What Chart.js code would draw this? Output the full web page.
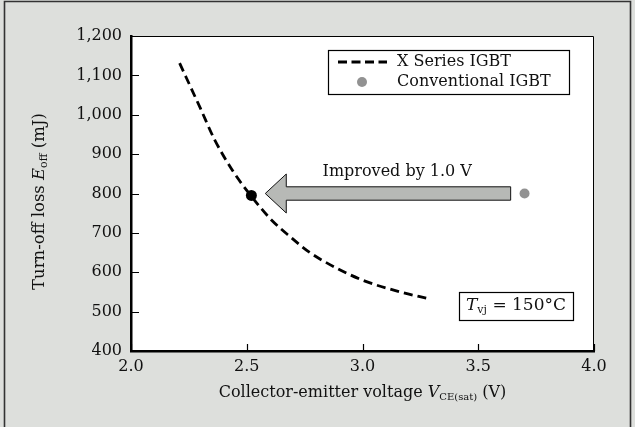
<!DOCTYPE html>
<html>
<head>
<meta charset="utf-8">
<script src="https://cdn.jsdelivr.net/npm/chart.js@4/dist/chart.umd.min.js"></script>
<style>
  html, body { margin: 0; padding: 0; background: #dddfdc; }
  #wrap { width: 635px; height: 427px; position: relative; }
</style>
</head>
<body>
<div id="wrap"><canvas id="c" width="635" height="427"></canvas></div>
<script>
// ---- data ----
const seriesLabels = ['X Series IGBT', 'Conventional IGBT'];
const xSeriesVce  = [2.21, 2.30, 2.36, 2.44, 2.52, 2.60, 2.69, 2.77, 2.88, 3.00, 3.15, 3.29];
const xSeriesEoff = [1131, 1016, 938, 857, 793, 737, 689, 651, 613, 580, 552, 532];
const xMarkVce  = [2.52];
const xMarkEoff = [795];
const convVce  = [3.70];
const convEoff = [800];
const xTickValues = [2.0, 2.5, 3.0, 3.5, 4.0];
const yTickValues = [400, 500, 600, 700, 800, 900, 1000, 1100, 1200];
const arrowFromVce = 3.64, arrowToVce = 2.58, arrowEoff = 800;
const arrowLabel = 'Improved by 1.0 V';
const tempLabel = ['T', 'vj', ' = 150\u00B0C'];

const FONT = '"DejaVu Serif", "Liberation Serif", serif';
const INK = '#111';

function pts(xs, ys) { return xs.map((x, i) => ({ x: x, y: ys[i] })); }

function richWidth(ctx, segs, size, subSize) {
  let w = 0;
  segs.forEach(s => {
    ctx.font = (s.it ? 'italic ' : '') + (s.sub ? subSize : size) + 'px ' + FONT;
    w += ctx.measureText(s.t).width;
  });
  return w;
}
function drawRich(ctx, segs, x, y, size, subSize, align) {
  const w = richWidth(ctx, segs, size, subSize);
  let cx = align === 'center' ? x - w / 2 : x;
  ctx.textBaseline = 'middle';
  ctx.textAlign = 'left';
  segs.forEach(s => {
    ctx.font = (s.it ? 'italic ' : '') + (s.sub ? subSize : size) + 'px ' + FONT;
    ctx.fillText(s.t, cx, y + (s.sub ? 4 : 0));
    cx += ctx.measureText(s.t).width;
  });
}

const decor = {
  id: 'decor',
  beforeDraw(chart) {
    const ctx = chart.ctx, a = chart.chartArea;
    ctx.save();
    ctx.fillStyle = '#dddfdc';
    ctx.fillRect(0, 0, chart.width, chart.height);
    ctx.strokeStyle = '#333';
    ctx.lineWidth = 1.6;
    ctx.beginPath();
    ctx.moveTo(4.5, 440); ctx.lineTo(4.5, 1.5); ctx.lineTo(630.5, 1.5); ctx.lineTo(630.5, 440);
    ctx.stroke();
    ctx.fillStyle = '#fff';
    ctx.fillRect(a.left, a.top, a.right - a.left, a.bottom - a.top);
    ctx.restore();
  },
  afterDraw(chart) {
    const ctx = chart.ctx, a = chart.chartArea;
    const xs = chart.scales.x, ys = chart.scales.y;
    ctx.save();
    ctx.strokeStyle = '#000';
    ctx.lineWidth = 1;
    ctx.beginPath();
    ctx.moveTo(a.left, a.top + 0.5); ctx.lineTo(a.right - 0.5, a.top + 0.5); ctx.lineTo(a.right - 0.5, a.bottom);
    ctx.stroke();
    ctx.lineWidth = 1.2;
    ctx.beginPath();
    yTickValues.forEach(v => {
      const py = Math.round(ys.getPixelForValue(v)) + 0.5;
      ctx.moveTo(a.left, py); ctx.lineTo(a.left + 8, py);
    });
    xTickValues.forEach(v => {
      const px = Math.round(xs.getPixelForValue(v)) + 0.5;
      ctx.moveTo(px, a.bottom); ctx.lineTo(px, a.bottom - 7);
    });
    ctx.stroke();

    // arrow
    const ay = ys.getPixelForValue(arrowEoff);
    const tail = xs.getPixelForValue(arrowFromVce);
    const tip = xs.getPixelForValue(arrowToVce);
    const headBack = tip + 21;
    const bh = 6.7, hh = 19.5;
    ctx.beginPath();
    ctx.moveTo(tail, ay - bh);
    ctx.lineTo(headBack, ay - bh);
    ctx.lineTo(headBack, ay - hh);
    ctx.lineTo(tip, ay);
    ctx.lineTo(headBack, ay + hh);
    ctx.lineTo(headBack, ay + bh);
    ctx.lineTo(tail, ay + bh);
    ctx.closePath();
    ctx.fillStyle = '#b7b9b6';
    ctx.fill();
    ctx.strokeStyle = '#111';
    ctx.lineWidth = 1;
    ctx.stroke();
    ctx.fillStyle = INK;
    ctx.font = '16px ' + FONT;
    ctx.textAlign = 'center';
    ctx.textBaseline = 'middle';
    ctx.fillText(arrowLabel, xs.getPixelForValue(3.15), ay - 22);

    // legend box
    const lx = a.right - 266, ly = a.top + 14, lw = 241, lh = 44;
    ctx.fillStyle = '#fff';
    ctx.fillRect(lx, ly, lw, lh);
    ctx.strokeStyle = '#000';
    ctx.lineWidth = 1.2;
    ctx.strokeRect(lx + 0.5, ly + 0.5, lw, lh);
    ctx.beginPath();
    ctx.setLineDash([9, 4.5]);
    ctx.lineWidth = 2.8;
    ctx.moveTo(lx + 10, ly + 12); ctx.lineTo(lx + 59, ly + 12);
    ctx.stroke();
    ctx.setLineDash([]);
    ctx.fillStyle = '#929292';
    ctx.beginPath();
    ctx.arc(lx + 34, ly + 32, 5, 0, Math.PI * 2);
    ctx.fill();
    ctx.fillStyle = INK;
    ctx.font = '16px ' + FONT;
    ctx.textAlign = 'left';
    ctx.textBaseline = 'middle';
    ctx.fillText(seriesLabels[0], lx + 69, ly + 12);
    ctx.fillText(seriesLabels[1], lx + 69, ly + 32);

    // temperature box
    const tw = 114, th = 28;
    const tx = a.right - 21 - tw, ty = a.bottom - 31 - th;
    ctx.fillStyle = '#fff';
    ctx.fillRect(tx, ty, tw, th);
    ctx.strokeStyle = '#000';
    ctx.lineWidth = 1.2;
    ctx.strokeRect(tx + 0.5, ty + 0.5, tw, th);
    ctx.fillStyle = INK;
    drawRich(ctx, [{ t: tempLabel[0], it: true }, { t: tempLabel[1], sub: true }, { t: tempLabel[2] }],
      tx + tw / 2, ty + th / 2, 17, 11, 'center');

    // axis titles
    drawRich(ctx, [{ t: 'Collector-emitter voltage ' }, { t: 'V', it: true }, { t: 'CE(sat)', sub: true }, { t: ' (V)' }],
      (a.left + a.right) / 2, 393, 16, 10, 'center');
    ctx.save();
    ctx.translate(40, (a.top + a.bottom) / 2 + 8);
    ctx.rotate(-Math.PI / 2);
    drawRich(ctx, [{ t: 'Turn-off loss ' }, { t: 'E', it: true }, { t: 'off', sub: true }, { t: ' (mJ)' }],
      0, 0, 16.5, 11, 'center');
    ctx.restore();
    ctx.restore();
  }
};

new Chart(document.getElementById('c'), {
  type: 'scatter',
  data: {
    datasets: [
      {
        label: seriesLabels[0],
        data: pts(xSeriesVce, xSeriesEoff),
        showLine: true,
        borderColor: '#000',
        borderWidth: 2.8,
        borderDash: [9, 5],
        pointRadius: 0,
        cubicInterpolationMode: 'monotone',
        fill: false
      },
      {
        label: seriesLabels[0] + ' point',
        data: pts(xMarkVce, xMarkEoff),
        pointRadius: 5.5,
        pointBackgroundColor: '#000',
        pointBorderColor: '#000',
        pointBorderWidth: 0
      },
      {
        label: seriesLabels[1],
        data: pts(convVce, convEoff),
        pointRadius: 5,
        pointBackgroundColor: '#929292',
        pointBorderColor: '#929292',
        pointBorderWidth: 0
      }
    ]
  },
  options: {
    responsive: false,
    animation: false,
    devicePixelRatio: 1,
    layout: { padding: { left: 0, top: 36, right: 41, bottom: 0 } },
    plugins: { legend: { display: false }, tooltip: { enabled: false } },
    scales: {
      x: {
        type: 'linear',
        min: xTickValues[0],
        max: xTickValues[xTickValues.length - 1],
        afterFit(s) { s.height = 76; },
        afterBuildTicks(s) { s.ticks = xTickValues.map(v => ({ value: v })); },
        ticks: {
          color: INK,
          font: { family: FONT, size: 16 },
          padding: 6,
          maxRotation: 0,
          callback: v => Number(v).toFixed(1)
        },
        grid: { display: true, drawOnChartArea: false, drawTicks: false },
        border: { display: true, color: '#000', width: 2.5 }
      },
      y: {
        type: 'linear',
        min: yTickValues[0],
        max: yTickValues[yTickValues.length - 1],
        afterFit(s) { s.width = 131; },
        afterBuildTicks(s) { s.ticks = yTickValues.map(v => ({ value: v })); },
        ticks: {
          color: INK,
          font: { family: FONT, size: 16 },
          padding: 9,
          callback: v => Number(v).toLocaleString('en-US')
        },
        grid: { display: true, drawOnChartArea: false, drawTicks: false },
        border: { display: true, color: '#000', width: 2.5 }
      }
    }
  },
  plugins: [decor]
});
</script>
</body>
</html>
